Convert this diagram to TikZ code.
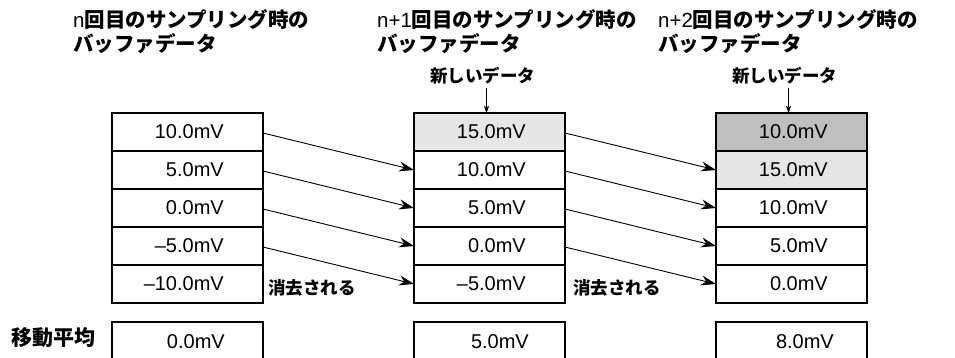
\documentclass[tikz,border=0pt]{standalone}
\usepackage{fontspec}
\setmainfont{Liberation Sans}
\newfontfamily\jp{Noto Sans CJK JP}
\usetikzlibrary{arrows.meta}
\definecolor{lightfill}{HTML}{E6E6E6}
\definecolor{midfill}{HTML}{BFBFBF}
\tikzset{
  cell/.style={draw, line width=1.3pt, minimum width=151pt, minimum height=38pt, inner sep=0pt, outer sep=0pt},
  frame/.style={draw, line width=2pt},
  val/.style={font=\fontsize{20}{24}\selectfont, anchor=east, inner sep=0pt},
  ttl/.style={anchor=base west, inner sep=0pt, font=\fontsize{20.5}{24}\selectfont},
  jlab/.style={inner sep=0pt, font=\fontsize{17.5}{20}\selectfont\jp\bfseries},
  conn/.style={line width=0.9pt, -{Stealth[length=15pt,width=10pt,inset=5pt]}},
  newarr/.style={line width=0.8pt, -{Stealth[length=7pt,width=5pt,inset=1.5pt]}}
}
\begin{document}
\begin{tikzpicture}[x=1pt,y=-1pt]
\useasboundingbox (0,0) rectangle (955,357);
% titles
\node[ttl] (t1a) at (73,27) {n{\jp\bfseries 回目のサンプリング時の}};
\node[ttl] (t1b) at (73,51) {\jp\bfseries バッファデータ};
\node[ttl] (t2a) at (377,27) {n+1{\jp\bfseries 回目のサンプリング時の}};
\node[ttl] (t2b) at (377,51) {\jp\bfseries バッファデータ};
\node[ttl] (t3a) at (658,27) {n+2{\jp\bfseries 回目のサンプリング時の}};
\node[ttl] (t3b) at (658,51) {\jp\bfseries バッファデータ};
% new data labels
\node[jlab] (n2) at (482.5,76) {新しいデータ};
\node[jlab] (n3) at (784.5,76) {新しいデータ};
\coordinate (a2) at (486.5,88);
\coordinate (a3) at (788.5,88);
% column 1
\node[cell] (c1r1) at (187.5,132) {};
\node[cell] (c1r2) at (187.5,170) {};
\node[cell] (c1r3) at (187.5,208) {};
\node[cell] (c1r4) at (187.5,246) {};
\node[cell] (c1r5) at (187.5,284) {};
% column 2
\node[cell, fill=lightfill] (c2r1) at (489.5,132) {};
\node[cell] (c2r2) at (489.5,170) {};
\node[cell] (c2r3) at (489.5,208) {};
\node[cell] (c2r4) at (489.5,246) {};
\node[cell] (c2r5) at (489.5,284) {};
% column 3
\node[cell, fill=midfill] (c3r1) at (791.5,132) {};
\node[cell, fill=lightfill] (c3r2) at (791.5,170) {};
\node[cell] (c3r3) at (791.5,208) {};
\node[cell] (c3r4) at (791.5,246) {};
\node[cell] (c3r5) at (791.5,284) {};
% outer frames
\foreach \c in {1,2,3}{
  \draw[frame] (c\c r1.north west) rectangle (c\c r5.south east);
}
% averages
\node[cell, line width=1.8pt] (c1av) at (187.5,341) {};
\node[cell, line width=1.8pt] (c2av) at (489.5,341) {};
\node[cell, line width=1.8pt] (c3av) at (791.5,341) {};
% values
\node[val] (v11) at ([xshift=-39pt]c1r1.east) {10.0mV};
\node[val] (v12) at ([xshift=-39pt]c1r2.east) {5.0mV};
\node[val] (v13) at ([xshift=-39pt]c1r3.east) {0.0mV};
\node[val] (v14) at ([xshift=-39pt]c1r4.east) {–5.0mV};
\node[val] (v15) at ([xshift=-39pt]c1r5.east) {–10.0mV};
\node[val] (v21) at ([xshift=-39pt]c2r1.east) {15.0mV};
\node[val] (v22) at ([xshift=-39pt]c2r2.east) {10.0mV};
\node[val] (v23) at ([xshift=-39pt]c2r3.east) {5.0mV};
\node[val] (v24) at ([xshift=-39pt]c2r4.east) {0.0mV};
\node[val] (v25) at ([xshift=-39pt]c2r5.east) {–5.0mV};
\node[val] (v31) at ([xshift=-39pt]c3r1.east) {10.0mV};
\node[val] (v32) at ([xshift=-39pt]c3r2.east) {15.0mV};
\node[val] (v33) at ([xshift=-39pt]c3r3.east) {10.0mV};
\node[val] (v34) at ([xshift=-39pt]c3r4.east) {5.0mV};
\node[val] (v35) at ([xshift=-39pt]c3r5.east) {0.0mV};
\node[val] (va1) at ([xshift=-38pt,yshift=-1pt]c1av.east) {0.0mV};
\node[val] (va2) at ([xshift=-36pt,yshift=-1pt]c2av.east) {5.0mV};
\node[val] (va3) at ([xshift=-33pt,yshift=-1pt]c3av.east) {8.0mV};
% labels
\node[jlab, anchor=west] (e1) at (268,288) {消去される};
\node[jlab, anchor=west] (e2) at (573,288) {消去される};
\node[inner sep=0pt, anchor=west, font=\fontsize{21}{24}\selectfont\jp\bfseries] (ma) at (11,338) {移動平均};
% arrows
\draw[newarr] (a2) -- (a2 |- c2r1.north);
\draw[newarr] (a3) -- (a3 |- c3r1.north);
\foreach \a/\b in {1/2,2/3,3/4,4/5}{
  \draw[conn] ([yshift=-1pt]c1r\a.east) -- (c2r\b.west);
  \draw[conn] ([yshift=-1pt]c2r\a.east) -- (c3r\b.west);
}
\end{tikzpicture}
\end{document}
